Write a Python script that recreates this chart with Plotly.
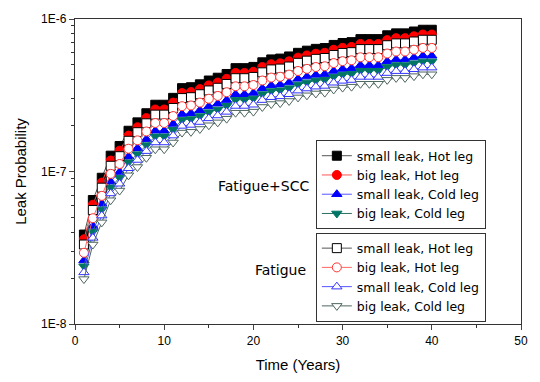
import plotly.graph_objects as go

years = list(range(1, 41))

# values in units of 1e-8
small_hot_fscc = [3.86, 6.5, 9.1, 12.7, 14.7, 18.5, 21.0, 24.1, 27.4, 27.4, 30.4, 35.2, 35.7, 37.3, 39.5, 41.2, 43.6, 47.6, 47.6, 48.5,
                  52.0, 54.3, 55.0, 56.8, 60.0, 62.0, 63.7, 64.5, 67.6, 69.6, 70.5, 73.8, 73.8, 73.8, 78.2, 80.5, 80.5, 82.8, 85.0, 85.0]
big_hot_fscc = [3.59, 6.05, 8.46, 11.8, 13.7, 17.2, 19.5, 22.4, 25.5, 25.5, 28.3, 32.7, 33.2, 34.7, 36.7, 38.3, 40.5, 44.3, 44.3, 45.1,
                48.4, 50.5, 51.2, 52.8, 55.8, 57.7, 59.2, 60.0, 62.9, 64.7, 65.6, 68.6, 68.6, 68.6, 72.7, 74.9, 74.9, 77.0, 79.1, 79.1]
small_cold_fscc = [2.61, 4.39, 6.14, 8.57, 9.92, 12.5, 14.2, 16.3, 18.5, 18.5, 20.5, 23.8, 24.1, 25.2, 26.7, 27.8, 29.4, 32.1, 32.1, 32.7,
                   35.1, 36.7, 37.1, 38.3, 40.5, 41.9, 43.0, 43.5, 45.6, 47.0, 47.6, 49.8, 49.8, 49.8, 52.8, 54.3, 54.3, 55.9, 57.4, 57.4]
big_cold_fscc = [2.39, 4.03, 5.64, 7.87, 9.11, 11.5, 13.0, 14.9, 17.0, 17.0, 18.8, 21.8, 22.1, 23.1, 24.5, 25.5, 27.0, 29.5, 29.5, 30.1,
                 32.2, 33.7, 34.1, 35.2, 37.2, 38.4, 39.5, 40.0, 41.9, 43.2, 43.7, 45.8, 45.8, 45.8, 48.5, 49.9, 49.9, 51.3, 52.7, 52.7]
small_hot_fat = [3.32, 5.59, 7.83, 10.9, 12.6, 15.9, 18.1, 20.7, 23.6, 23.6, 26.1, 30.3, 30.7, 32.1, 34.0, 35.4, 37.5, 40.9, 40.9, 41.7,
                 44.7, 46.7, 47.3, 48.8, 51.6, 53.3, 54.8, 55.5, 58.1, 59.9, 60.6, 63.5, 63.5, 63.5, 67.3, 69.2, 69.2, 71.2, 73.1, 73.1]
big_hot_fat = [2.93, 4.94, 6.92, 9.65, 11.2, 14.1, 16.0, 18.3, 20.8, 20.8, 23.1, 26.8, 27.1, 28.3, 30.0, 31.3, 33.1, 36.2, 36.2, 36.9,
               39.5, 41.3, 41.8, 43.2, 45.6, 47.1, 48.4, 49.0, 51.4, 52.9, 53.6, 56.1, 56.1, 56.1, 59.4, 61.2, 61.2, 62.9, 64.6, 64.6]
small_cold_fat = [2.18, 3.67, 5.14, 7.18, 8.31, 10.5, 11.9, 13.6, 15.5, 15.5, 17.2, 19.9, 20.2, 21.1, 22.3, 23.3, 24.6, 26.9, 26.9, 27.4,
                  29.4, 30.7, 31.1, 32.1, 33.9, 35.0, 36.0, 36.4, 38.2, 39.3, 39.8, 41.7, 41.7, 41.7, 44.2, 45.5, 45.5, 46.8, 48.0, 48.0]
big_cold_fat = [1.97, 3.32, 4.64, 6.48, 7.50, 9.44, 10.7, 12.3, 14.0, 14.0, 15.5, 18.0, 18.2, 19.0, 20.1, 21.0, 22.2, 24.3, 24.3, 24.7,
                26.5, 27.7, 28.1, 29.0, 30.6, 31.6, 32.5, 32.9, 34.5, 35.5, 36.0, 37.6, 37.6, 37.6, 39.9, 41.1, 41.1, 42.2, 43.4, 43.4]
UNIT = 1e-8

names = ["small leak, Hot leg", "big leak, Hot leg", "small leak, Cold leg", "big leak, Cold leg"]

fscc = [small_hot_fscc, big_hot_fscc, small_cold_fscc, big_cold_fscc]
fat = [small_hot_fat, big_hot_fat, small_cold_fat, big_cold_fat]

fscc_style = [
    dict(symbol="square", color="#000000", line="#555555"),
    dict(symbol="circle", color="#ff0000", line="#ff5555"),
    dict(symbol="triangle-up", color="#0000ff", line="#5555ff"),
    dict(symbol="triangle-down", color="#007566", line="#2a6e62"),
]
fat_style = [
    dict(edge="#000000", symbol="square", line="#555555"),
    dict(edge="#ff3333", symbol="circle", line="#ff6666"),
    dict(edge="#3333ff", symbol="triangle-up", line="#5555ff"),
    dict(edge="#4d6660", symbol="triangle-down", line="#4d6660"),
]

fig = go.Figure()
for vals, nm, st in zip(fscc, names, fscc_style):
    fig.add_trace(go.Scatter(
        x=years, y=[v * UNIT for v in vals], name=nm, mode="lines+markers",
        line=dict(color=st["line"], width=1),
        marker=dict(symbol=st["symbol"], size=9, color=st["color"], line=dict(color=st["color"], width=1)),
        legend="legend"))
for vals, nm, st in zip(fat, names, fat_style):
    fig.add_trace(go.Scatter(
        x=years, y=[v * UNIT for v in vals], name=nm, mode="lines+markers",
        line=dict(color=st["line"], width=1),
        marker=dict(symbol=st["symbol"], size=9, color="#ffffff", line=dict(color=st["edge"], width=1)),
        legend="legend2"))

font = "Liberation Sans, Arial, sans-serif"
wide = "DejaVu Sans, Verdana, sans-serif"
minor_y = [k * 1e-8 for k in range(2, 10)] + [k * 1e-7 for k in range(2, 10)]

leg_common = dict(xanchor="left", yanchor="top", bordercolor="#333333", borderwidth=1, bgcolor="white",
                  font=dict(size=12.5, family=wide), tracegroupgap=0, itemwidth=30, itemsizing="trace")

fig.update_layout(
    width=540, height=382,
    margin=dict(l=75, r=15, t=12, b=53),
    paper_bgcolor="white", plot_bgcolor="white",
    font=dict(family=font, size=12, color="#000000"),
    showlegend=True,
    legend=dict(x=0.54, y=0.603, **leg_common),
    legend2=dict(x=0.54, y=0.3, **leg_common),
    xaxis=dict(range=[0, 50], tickvals=[0, 10, 20, 30, 40, 50], ticks="outside", ticklen=5,
               tickwidth=1.2, showline=True, linecolor="#333333", linewidth=1.3, mirror=True,
               showgrid=False, zeroline=False,
               minor=dict(tickvals=[5, 15, 25, 35, 45], ticks="outside", ticklen=3, tickcolor="#333333"),
               title=dict(text="Time (Years)", font=dict(size=15), standoff=12),
               tickfont=dict(size=12)),
    yaxis=dict(type="log", range=[-8, -6], tickvals=[1e-8, 1e-7, 1e-6], ticktext=["1E-8", "1E-7", "1E-6"],
               ticks="outside", ticklen=5, tickwidth=1.2, showline=True, linecolor="#333333", linewidth=1.3,
               mirror=True, showgrid=False, zeroline=False,
               minor=dict(tickvals=minor_y, ticks="outside", ticklen=3, tickcolor="#333333"),
               title=dict(text="Leak Probability", font=dict(size=15), standoff=10),
               tickfont=dict(size=12)),
    annotations=[
        dict(text="Fatigue+SCC", x=0.529, y=0.451, xref="paper", yref="paper", xanchor="right",
             yanchor="middle", showarrow=False, font=dict(size=14, family=wide)),
        dict(text="Fatigue", x=0.522, y=0.177, xref="paper", yref="paper", xanchor="right",
             yanchor="middle", showarrow=False, font=dict(size=14, family=wide)),
    ],
)

fig.write_html("out.html")
